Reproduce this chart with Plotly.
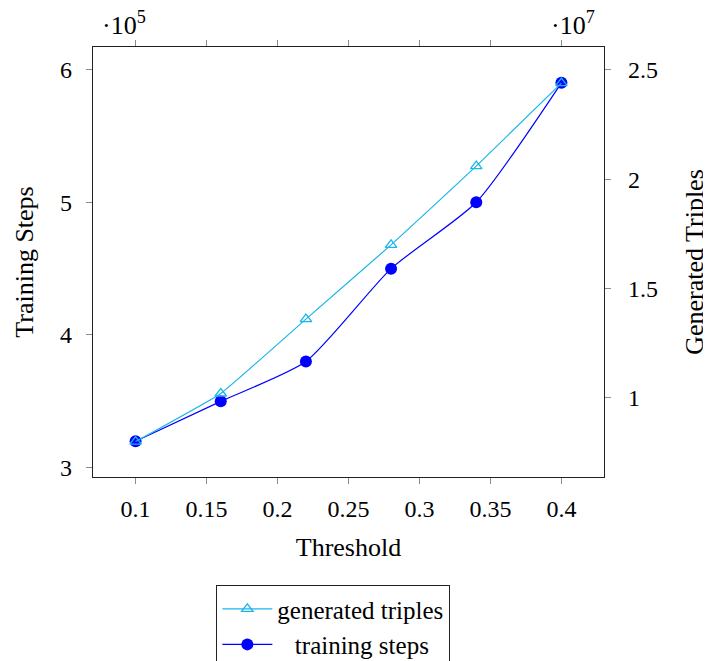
import plotly.graph_objects as go

thresholds = [0.10, 0.16, 0.22, 0.28, 0.34, 0.40]
generated_triples = [0.80, 1.02, 1.36, 1.70, 2.06, 2.44]   # x 10^7
training_steps = [3.2, 3.5, 3.8, 4.5, 5.0, 5.9]             # x 10^5

x_ticks = [0.1, 0.15, 0.2, 0.25, 0.3, 0.35, 0.4]
x_tick_labels = ["0.1", "0.15", "0.2", "0.25", "0.3", "0.35", "0.4"]
left_ticks = [3, 4, 5, 6]
right_ticks = [1, 1.5, 2, 2.5]
right_tick_labels = ["1", "1.5", "2", "2.5"]

FONT = "Liberation Serif"
CYAN = "#1bb5ea"
BLUE = "#0000ff"
TICKC = "#8a8a8a"

fig = go.Figure()
fig.add_trace(go.Scatter(
    x=thresholds, y=training_steps, name="\u2002\u2009training steps", yaxis="y",
    mode="lines+markers", line=dict(color=BLUE, width=1.2, shape="spline", smoothing=0.6),
    marker=dict(symbol="circle", size=12, color=BLUE), legendrank=2))
fig.add_trace(go.Scatter(
    x=thresholds, y=generated_triples, name="generated triples", yaxis="y2",
    mode="lines+markers", line=dict(color=CYAN, width=1.2, shape="spline", smoothing=0.3),
    marker=dict(symbol="triangle-up-open", size=10, color=CYAN, line=dict(width=1.3)),
    legendrank=1))

fig.update_layout(
    width=711, height=690,
    margin=dict(l=85, r=115, t=39, b=221),
    paper_bgcolor="white", plot_bgcolor="white",
    font=dict(family=FONT, size=24, color="black"),
    showlegend=True,
    legend=dict(x=0.241, y=-0.251, xanchor="left", yanchor="top",
                bordercolor="#222", borderwidth=1.2, bgcolor="white",
                font=dict(family=FONT, size=25), tracegroupgap=0,
                itemwidth=50, traceorder="normal"),
    xaxis=dict(range=[0.07, 0.43], tickvals=x_ticks, ticktext=x_tick_labels,
               showline=True, linecolor="#222", linewidth=1.3, mirror="ticks",
               ticks="outside", ticklen=6, tickcolor=TICKC, showgrid=False, zeroline=False,
               automargin=False, tickfont=dict(size=24), ticklabelstandoff=4,
               title=dict(text="Threshold", standoff=16, font=dict(size=26))),
    yaxis=dict(range=[2.93, 6.17], tickvals=left_ticks,
               showline=True, linecolor="#222", linewidth=1.3,
               ticks="outside", ticklen=6, tickcolor=TICKC, showgrid=False, zeroline=False,
               automargin=False, tickfont=dict(size=24), ticklabelstandoff=9,
               title=dict(text="Training Steps", standoff=18, font=dict(size=26))),
    yaxis2=dict(range=[0.638, 2.605], tickvals=right_ticks, ticktext=right_tick_labels,
                overlaying="y", side="right",
                showline=True, linecolor="#222", linewidth=1.3,
                ticks="outside", ticklen=6, tickcolor=TICKC, showgrid=False, zeroline=False,
                automargin=False, tickfont=dict(size=24), ticklabelstandoff=12,
                title=dict(text="Generated Triples", standoff=27, font=dict(size=26))),
    annotations=[
        dict(text="·10<sup>5</sup>", xref="paper", yref="paper", x=0.061, y=1.012,
             xanchor="center", yanchor="bottom", showarrow=False, font=dict(family=FONT, size=26)),
        dict(text="·10<sup>7</sup>", xref="paper", yref="paper", x=0.939, y=1.012,
             xanchor="center", yanchor="bottom", showarrow=False, font=dict(family=FONT, size=26)),
    ],
)

fig.write_html("out.html")
